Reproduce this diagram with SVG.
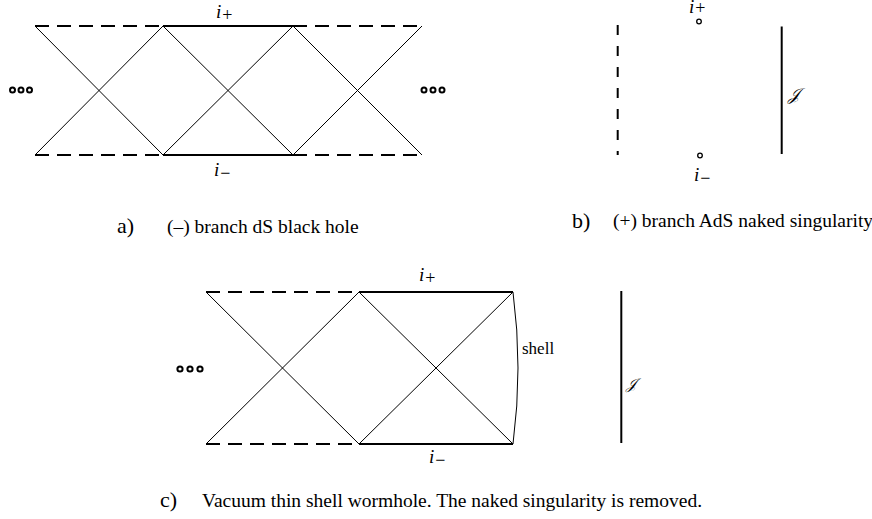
<svg xmlns="http://www.w3.org/2000/svg" width="872" height="519" viewBox="0 0 872 519">
<style>
.thin{stroke:#000;stroke-width:1;fill:none}
.thick{stroke:#000;stroke-width:2;fill:none}
.dash{stroke:#000;stroke-width:2;fill:none;stroke-dasharray:14 8}
.vdash{stroke:#000;stroke-width:2;fill:none;stroke-dasharray:10 11}
.dot{stroke:#000;stroke-width:2;fill:#fff}
.odot{stroke:#000;stroke-width:1.3;fill:#fff}
.math{font-family:"Liberation Serif",serif;font-style:italic;font-size:19px;fill:#000}
.sub{font-style:normal;font-size:18px}
.cap{font-family:"Liberation Serif",serif;font-size:19.5px;fill:#000}
.lab{font-family:"Liberation Serif",serif;font-size:22px;fill:#000}
.scr{font-family:"DejaVu Serif","Liberation Serif",serif;font-style:italic;font-size:17px;fill:#000}
</style>
<rect width="872" height="519" fill="#fff"/>
<g id="diagram-a">
  <g id="a-lines">
    <line class="thin" x1="35" y1="26" x2="163" y2="155"/>
    <line class="thin" x1="35" y1="155" x2="163" y2="26"/>
    <line class="thin" x1="163" y1="26" x2="293" y2="155"/>
    <line class="thin" x1="163" y1="155" x2="293" y2="26"/>
    <line class="thin" x1="293" y1="26" x2="422" y2="155"/>
    <line class="thin" x1="293" y1="155" x2="422" y2="26"/>
    <line class="thick" x1="163" y1="26" x2="293" y2="26"/>
    <line class="thick" x1="163" y1="155" x2="293" y2="155"/>
    <line class="dash" x1="35" y1="26" x2="163" y2="26"/>
    <line class="dash" x1="35" y1="155" x2="163" y2="155"/>
    <line class="dash" x1="293" y1="26" x2="422" y2="26"/>
    <line class="dash" x1="293" y1="155" x2="422" y2="155"/>
  </g>
  <g id="a-dots-left">
    <circle class="dot" cx="12.5" cy="90" r="2.5"/>
    <circle class="dot" cx="21" cy="90" r="2.5"/>
    <circle class="dot" cx="29.5" cy="90" r="2.5"/>
  </g>
  <g id="a-dots-right">
    <circle class="dot" cx="424" cy="90" r="2.5"/>
    <circle class="dot" cx="433" cy="90" r="2.5"/>
    <circle class="dot" cx="442" cy="90" r="2.5"/>
  </g>
  <text class="math" x="216" y="18">i<tspan class="sub" dx="1" dy="3">+</tspan></text>
  <text class="math" x="214" y="176">i<tspan class="sub" dx="1" dy="3">−</tspan></text>
</g>
<g id="diagram-b">
  <line class="vdash" x1="617.7" y1="25" x2="617.7" y2="155"/>
  <line class="thick" x1="781.7" y1="26.5" x2="781.7" y2="154"/>
  <circle class="odot" cx="699" cy="21.5" r="2.3"/>
  <circle class="odot" cx="700" cy="155.5" r="2.3"/>
  <text class="math" x="689" y="13">i<tspan class="sub" dx="1" dy="1">+</tspan></text>
  <text class="math" x="694" y="181">i<tspan class="sub" dx="1" dy="3">−</tspan></text>
  <text class="scr" x="788" y="100">𝒥</text>
</g>
<g id="diagram-c">
  <g id="c-lines">
    <line class="thin" x1="206" y1="292" x2="359" y2="444"/>
    <line class="thin" x1="206" y1="444" x2="359" y2="292"/>
    <line class="thin" x1="359" y1="292" x2="513" y2="444"/>
    <line class="thin" x1="359" y1="444" x2="513" y2="292"/>
    <line class="thick" x1="359" y1="292" x2="513" y2="292"/>
    <line class="thick" x1="359" y1="444" x2="513" y2="444"/>
    <line class="dash" x1="206" y1="292" x2="359" y2="292"/>
    <line class="dash" x1="206" y1="444" x2="359" y2="444"/>
    <path class="thin" d="M513,292 Q523,368 513,444"/>
  </g>
  <g id="c-dots">
    <circle class="dot" cx="180" cy="369" r="2.6"/>
    <circle class="dot" cx="190" cy="369" r="2.6"/>
    <circle class="dot" cx="200" cy="369" r="2.6"/>
  </g>
  <text class="math" x="419" y="281">i<tspan class="sub" dx="1" dy="3">+</tspan></text>
  <text class="math" x="429" y="463">i<tspan class="sub" dx="1" dy="3">−</tspan></text>
  <text class="cap" x="522" y="354" style="font-size:17px">shell</text>
  <line class="thick" x1="621.3" y1="291" x2="621.3" y2="443"/>
  <text class="scr" x="626" y="389" style="font-size:15px">𝒥</text>
</g>
<g id="captions">
  <text class="lab" x="117" y="233">a)</text>
  <text class="cap" x="167" y="233">(–) branch dS black hole</text>
  <text class="lab" x="572" y="228">b)</text>
  <text class="cap" x="613" y="227">(+) branch AdS naked singularity</text>
  <text class="lab" x="160" y="507">c)</text>
  <text class="cap" x="202" y="507">Vacuum thin shell wormhole. The naked singularity is removed.</text>
</g>
</svg>
